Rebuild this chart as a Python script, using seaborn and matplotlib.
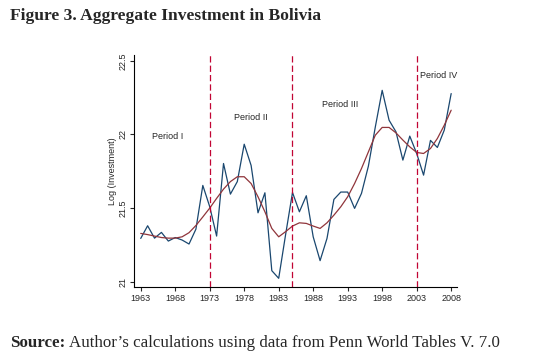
import numpy as np
import pandas as pd
import matplotlib
matplotlib.use("Agg")
import matplotlib.pyplot as plt
import seaborn as sns

# data
years = list(range(1963, 2009))
log_inv = [21.294, 21.38, 21.296, 21.335, 21.276, 21.30, 21.283, 21.256, 21.357, 21.654,
           21.51, 21.31, 21.803, 21.595, 21.68, 21.934, 21.79, 21.468, 21.604, 21.075,
           21.023, 21.32, 21.606, 21.475, 21.584, 21.305, 21.143, 21.294, 21.559, 21.609,
           21.609, 21.498, 21.60, 21.785, 22.05, 22.30, 22.097, 22.018, 21.826, 21.989,
           21.871, 21.724, 21.96, 21.912, 22.03, 22.278]
lowess = [21.328, 21.32, 21.31, 21.30, 21.296, 21.296, 21.305, 21.333, 21.382, 21.44,
          21.50, 21.566, 21.629, 21.68, 21.713, 21.713, 21.667, 21.577, 21.475, 21.362,
          21.305, 21.34, 21.378, 21.40, 21.396, 21.378, 21.362, 21.40, 21.452, 21.509,
          21.577, 21.667, 21.769, 21.882, 21.995, 22.048, 22.048, 22.011, 21.962, 21.916,
          21.878, 21.871, 21.905, 21.973, 22.063, 22.165]
period_breaks = [1973, 1985, 2003]
period_labels = ["Period I", "Period II", "Period III", "Period IV"]
period_x = [1964.6, 1976.5, 1989.3, 2003.5]
period_y = [21.984, 22.113, 22.204, 22.40]
x_ticks = [1963, 1968, 1973, 1978, 1983, 1988, 1993, 1998, 2003, 2008]
y_ticks = [21, 21.5, 22, 22.5]

df = pd.DataFrame({"year": years, "log_inv": log_inv, "lowess": lowess})

sns.set_style("ticks")
plt.rcParams["font.family"] = ["Liberation Sans", "DejaVu Sans"]

fig = plt.figure(figsize=(5.44, 3.6), dpi=100)
ax = fig.add_axes([0.2469, 0.2036, 0.5926, 0.6436])

sns.lineplot(data=df, x="year", y="log_inv", ax=ax, color="#1a476f", lw=0.9)
sns.lineplot(data=df, x="year", y="lowess", ax=ax, color="#90353b", lw=0.9)

for b in period_breaks:
    ax.axvline(b, color="#c10534", lw=0.9, ls=(0, (5, 2.5)))

for lab, px, py in zip(period_labels, period_x, period_y):
    ax.text(px, py, lab, fontsize=6.5, va="center", ha="left")

ax.set_xlim(1962.07, 2008.8)
ax.set_ylim(20.966, 22.54)
ax.set_xticks(x_ticks)
ax.set_yticks(y_ticks)
ax.set_yticklabels(["21", "21.5", "22", "22.5"], rotation=90, va="center")
ax.tick_params(labelsize=6.5, length=3, width=0.8, pad=2)
ax.set_xlabel("")
ax.set_ylabel("Log (Investment)", fontsize=6.5, labelpad=1)
sns.despine(ax=ax)
for s in ["left", "bottom"]:
    ax.spines[s].set_linewidth(0.8)
    ax.spines[s].set_color("black")

fig.text(0.018, 0.955, "Figure 3. Aggregate Investment in Bolivia", fontsize=12.6,
         fontweight="bold", family="Liberation Serif", va="center", ha="left")
src = fig.text(0.018, 0.048, "Source:", fontsize=12.2, fontweight="bold",
               family="Liberation Serif", va="center", ha="left")
fig.canvas.draw()
bb = src.get_window_extent()
fig.text((bb.x1 + 4) / fig.bbox.width, 0.048,
         "Author\u2019s calculations using data from Penn World Tables V. 7.0",
         fontsize=12.2, family="Liberation Serif", va="center", ha="left")

fig.savefig("out.png", dpi=100, facecolor="white")
